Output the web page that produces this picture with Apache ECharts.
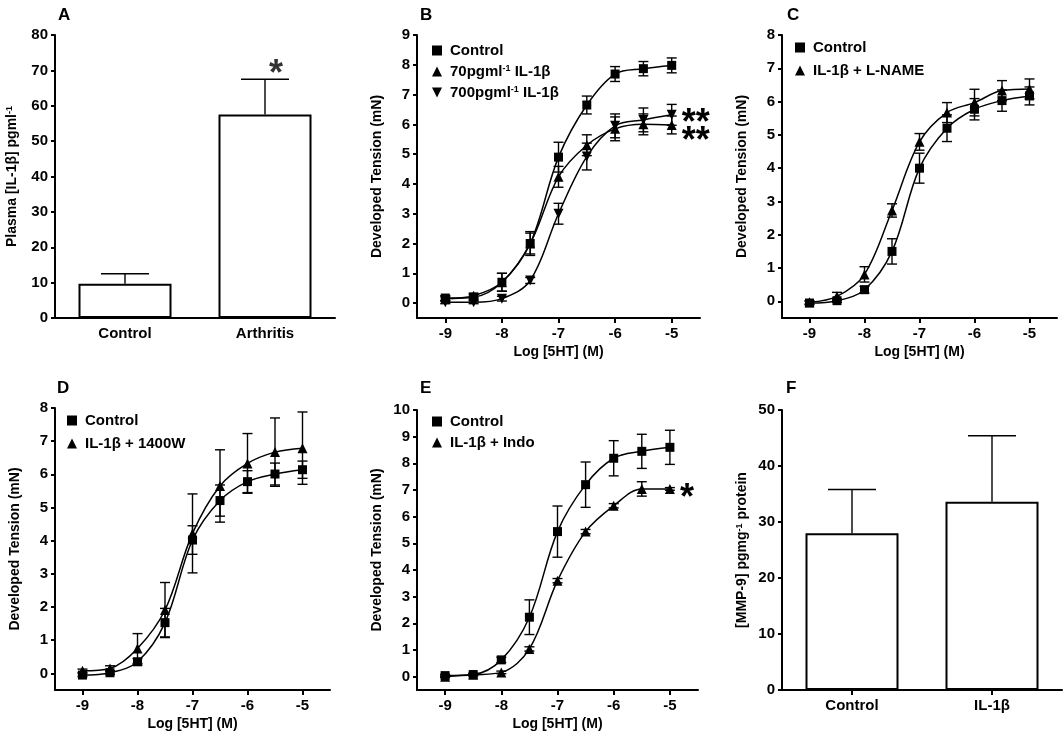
<!DOCTYPE html>
<html><head><meta charset="utf-8">
<script src="https://cdn.jsdelivr.net/npm/echarts@6/dist/echarts.min.js"></script>
<style>html,body{margin:0;padding:0;background:#fff}#c{width:1063px;height:736px}</style>
</head><body><div id="c"></div>
<script>
// ---------- data ----------
const logX = [-9, -8.5, -8, -7.5, -7, -6.5, -6, -5.5, -5];
const xTickVals = [-9, -8, -7, -6, -5];

const aCats = ['Control', 'Arthritis'];
const aMean = [9.7, 57.5];
const aSem = [2.8, 10.0];

const bControl = [0.17, 0.2, 0.7, 2.0, 4.9, 6.65, 7.69, 7.87, 7.98];
const bControlSem = [0.08, 0.08, 0.3, 0.4, 0.5, 0.3, 0.25, 0.24, 0.25];
const b70 = [0.15, 0.25, 0.7, 2.0, 4.24, 5.3, 5.85, 6.0, 5.98];
const b70Sem = [0.08, 0.08, 0.3, 0.35, 0.35, 0.35, 0.4, 0.35, 0.3];
const b700 = [0.03, 0.03, 0.15, 0.76, 3.0, 4.92, 5.95, 6.15, 6.32];
const b700Sem = [0.05, 0.05, 0.08, 0.1, 0.35, 0.45, 0.4, 0.4, 0.35];

const cControl = [-0.05, 0.02, 0.35, 1.5, 4.0, 5.2, 5.77, 6.03, 6.17];
const cControlSem = [0.05, 0.05, 0.1, 0.38, 0.45, 0.4, 0.32, 0.32, 0.27];
const cLname = [-0.03, 0.15, 0.81, 2.73, 4.79, 5.67, 5.97, 6.33, 6.38];
const cLnameSem = [0.05, 0.12, 0.23, 0.2, 0.25, 0.3, 0.4, 0.3, 0.3];

const dControl = [-0.05, 0.02, 0.35, 1.53, 4.02, 5.21, 5.78, 6.01, 6.14];
const dControlSem = [0.05, 0.05, 0.1, 0.43, 0.43, 0.47, 0.33, 0.33, 0.26];
const d1400W = [0.08, 0.15, 0.75, 1.91, 4.22, 5.65, 6.33, 6.67, 6.79];
const d1400WSem = [0.05, 0.08, 0.45, 0.83, 1.19, 1.09, 0.9, 1.03, 1.09];

const eControl = [0.04, 0.08, 0.63, 2.23, 5.44, 7.2, 8.19, 8.45, 8.6];
const eControlSem = [0.05, 0.05, 0.1, 0.65, 0.96, 0.85, 0.66, 0.64, 0.64];
const eIndo = [0.0, 0.07, 0.16, 1.04, 3.6, 5.44, 6.41, 7.04, 7.04];
const eIndoSem = [0.03, 0.03, 0.05, 0.08, 0.08, 0.08, 0.08, 0.27, 0.05];

const fCats = ['Control', 'IL-1β'];
const fMean = [28.0, 33.6];
const fSem = [7.8, 11.8];

const yTicksB = [0, 1, 2, 3, 4, 5, 6, 7, 8, 9];
const yTicksC = [0, 1, 2, 3, 4, 5, 6, 7, 8];
const yTicksD = [0, 1, 2, 3, 4, 5, 6, 7, 8];
const yTicksE = [0, 1, 2, 3, 4, 5, 6, 7, 8, 9, 10];

// ---------- styling helpers ----------
const FONT = '"Liberation Sans", Arial, sans-serif';
const BLACK = '#000';
const lineAxis = { show: true, onZero: false, lineStyle: { color: BLACK, width: 2 } };
const tickStyle = { color: BLACK, width: 2 };
const labelStyle = { color: BLACK, fontSize: 15, fontWeight: 'bold', fontFamily: FONT };
const nameStyle = {
  color: BLACK, fontSize: 14, fontWeight: 'bold', fontFamily: FONT,
  rich: { sup: { fontSize: 9, fontWeight: 'bold', fontFamily: FONT, color: BLACK, verticalAlign: 'top' } }
};
const starFont = { color: BLACK, fontSize: 36, fontWeight: 'bold', fontFamily: FONT };

function logXAxis(gi) {
  return {
    type: 'value', gridIndex: gi, min: -9.5, max: -4.5,
    axisLine: lineAxis,
    axisTick: { show: true, customValues: xTickVals, length: 5, lineStyle: tickStyle },
    axisLabel: Object.assign({ customValues: xTickVals, margin: 8, formatter: v => String(v) }, labelStyle),
    splitLine: { show: false },
    name: 'Log [5HT] (M)', nameLocation: 'middle', nameGap: 27, nameTextStyle: nameStyle
  };
}
function tensionYAxis(gi, max, ticks) {
  return {
    type: 'value', gridIndex: gi, min: -0.5, max: max,
    axisLine: lineAxis,
    axisTick: { show: true, customValues: ticks, length: 4, lineStyle: tickStyle },
    axisLabel: Object.assign({ customValues: ticks, margin: 7 }, labelStyle),
    splitLine: { show: false },
    name: 'Developed Tension (mN)', nameLocation: 'middle', nameGap: 33, nameTextStyle: nameStyle
  };
}
function catXAxis(gi, cats, showTick) {
  return {
    type: 'category', gridIndex: gi, data: cats,
    axisLine: lineAxis,
    axisTick: { show: showTick, alignWithLabel: true, length: 5, lineStyle: tickStyle },
    axisLabel: Object.assign({ margin: 8 }, labelStyle)
  };
}
function barYAxis(gi, max, interval, name, gap) {
  return {
    type: 'value', gridIndex: gi, min: 0, max: max, interval: interval,
    axisLine: lineAxis,
    axisTick: { show: true, length: 4, lineStyle: tickStyle },
    axisLabel: Object.assign({ margin: 7 }, labelStyle),
    splitLine: { show: false },
    name: name, nameLocation: 'middle', nameGap: gap, nameTextStyle: nameStyle
  };
}

function curve(name, gi, ys, symbol, size, rotate, star, starDy) {
  const data = logX.map((x, i) => [x, ys[i]]);
  if (star) {
    const last = data.length - 1;
    data[last] = {
      value: data[last],
      label: Object.assign({
        show: true, formatter: star, position: 'right', distance: 5, offset: [0, starDy]
      }, starFont)
    };
  }
  return {
    type: 'line', name: name, xAxisIndex: gi, yAxisIndex: gi, data: data,
    smooth: 0.35, symbol: symbol, symbolSize: size, symbolRotate: rotate || 0, showAllSymbol: true,
    color: BLACK, itemStyle: { color: BLACK }, lineStyle: { color: BLACK, width: 1.5 }, z: 4
  };
}

function errRender(capW, lowerCap) {
  return function (params, api) {
    const x = api.value(0), lo = api.value(1), hi = api.value(2);
    const pLo = api.coord([x, lo]);
    const pHi = api.coord([x, hi]);
    const st = { stroke: BLACK, lineWidth: 1.4 };
    const ch = [
      { type: 'line', shape: { x1: pLo[0], y1: pLo[1], x2: pHi[0], y2: pHi[1] }, style: st },
      { type: 'line', shape: { x1: pHi[0] - capW / 2, y1: pHi[1], x2: pHi[0] + capW / 2, y2: pHi[1] }, style: st }
    ];
    if (lowerCap) ch.push({ type: 'line', shape: { x1: pLo[0] - capW / 2, y1: pLo[1], x2: pLo[0] + capW / 2, y2: pLo[1] }, style: st });
    return { type: 'group', children: ch };
  };
}
function errBars(gi, ys, es) {
  return {
    type: 'custom', xAxisIndex: gi, yAxisIndex: gi, clip: false, z: 3,
    data: logX.map((x, i) => [x, ys[i] - es[i], ys[i] + es[i]]),
    encode: { x: 0, y: [1, 2] },
    renderItem: errRender(10, true), silent: true
  };
}
function barErr(gi, means, sems) {
  return {
    type: 'custom', xAxisIndex: gi, yAxisIndex: gi, clip: false, z: 5,
    data: means.map((m, i) => [i, m, m + sems[i]]),
    encode: { x: 0, y: [1, 2] },
    renderItem: errRender(48, false), silent: true
  };
}
function bars(gi, means) {
  return {
    type: 'bar', xAxisIndex: gi, yAxisIndex: gi, data: means, barWidth: 93,
    itemStyle: { color: '#fff', borderColor: BLACK, borderWidth: 2 }, z: 2
  };
}

const legendBase = {
  orient: 'vertical', itemWidth: 10, itemHeight: 10, selectedMode: false,
  textStyle: {
    color: BLACK, fontSize: 15, fontWeight: 'bold', fontFamily: FONT, padding: [0, 0, 0, 3],
    rich: { sup: { fontSize: 9, fontWeight: 'bold', fontFamily: FONT, color: BLACK, verticalAlign: 'top' } }
  },
  formatter: n => n.replace('⁻¹', '{sup|-1}'),
  padding: 0
};
const DOWN = 'path://M0,0L10,0L5,10Z';
function legend(left, top, gap, items) {
  return Object.assign({}, legendBase, { left: left, top: top, itemGap: gap, data: items });
}
function panelTitle(t, left, top) {
  return { text: t, left: left, top: top, padding: 0, textStyle: { fontSize: 17, fontWeight: 'bold', fontFamily: FONT, color: BLACK } };
}

const N70 = '70pgml⁻¹ IL-1β';
const N700 = '700pgml⁻¹ IL-1β';

const option = {
  animation: false,
  backgroundColor: '#fff',
  title: [
    panelTitle('A', 58, 7), panelTitle('B', 420, 7), panelTitle('C', 787, 7),
    panelTitle('D', 57, 380), panelTitle('E', 420, 380), panelTitle('F', 786, 380)
  ],
  grid: [
    { left: 55, top: 35, width: 280, height: 283 },
    { left: 417, top: 35, width: 283, height: 283 },
    { left: 782, top: 35, width: 275, height: 283 },
    { left: 55, top: 408, width: 275, height: 282 },
    { left: 417, top: 410, width: 281, height: 280 },
    { left: 782, top: 410, width: 280, height: 280 }
  ],
  xAxis: [
    catXAxis(0, aCats, false),
    logXAxis(1), logXAxis(2), logXAxis(3), logXAxis(4),
    catXAxis(5, fCats, true)
  ],
  yAxis: [
    barYAxis(0, 80, 10, 'Plasma [IL-1β] pgml{sup|-1}', 36),
    tensionYAxis(1, 9, yTicksB),
    tensionYAxis(2, 8, yTicksC),
    tensionYAxis(3, 8, yTicksD),
    tensionYAxis(4, 10, yTicksE),
    barYAxis(5, 50, 10, '[MMP-9] pgmg{sup|-1} protein', 33)
  ],
  legend: [
    legend(432, 43, 6, [{ name: 'Control', icon: 'rect' }, { name: N70, icon: 'triangle' }, { name: N700, icon: DOWN }]),
    legend(795, 40, 8, [{ name: 'Control', icon: 'rect' }, { name: 'IL-1β + L-NAME', icon: 'triangle' }]),
    legend(67, 413, 8, [{ name: 'Control', icon: 'rect' }, { name: 'IL-1β + 1400W', icon: 'triangle' }]),
    legend(432, 414, 6, [{ name: 'Control', icon: 'rect' }, { name: 'IL-1β + Indo', icon: 'triangle' }])
  ],
  series: [
    bars(0, aMean), barErr(0, aMean, aSem),
    {
      type: 'scatter', xAxisIndex: 0, yAxisIndex: 0, symbolSize: 0, silent: true,
      data: [[1, aMean[1] + aSem[1]]],
      label: Object.assign({ show: true, formatter: '*', position: 'top', distance: 0, offset: [11, 14] }, starFont)
    },

    errBars(1, bControl, bControlSem), errBars(1, b70, b70Sem), errBars(1, b700, b700Sem),
    curve(N700, 1, b700, 'triangle', 10, 180, '**', 9),
    curve(N70, 1, b70, 'triangle', 10, 0, '**', 17),
    curve('Control', 1, bControl, 'rect', 9, 0, null),

    errBars(2, cControl, cControlSem), errBars(2, cLname, cLnameSem),
    curve('IL-1β + L-NAME', 2, cLname, 'triangle', 10, 0, null),
    curve('Control', 2, cControl, 'rect', 9, 0, null),

    errBars(3, dControl, dControlSem), errBars(3, d1400W, d1400WSem),
    curve('IL-1β + 1400W', 3, d1400W, 'triangle', 10, 0, null),
    curve('Control', 3, dControl, 'rect', 9, 0, null),

    errBars(4, eControl, eControlSem), errBars(4, eIndo, eIndoSem),
    curve('IL-1β + Indo', 4, eIndo, 'triangle', 10, 0, '*', 10),
    curve('Control', 4, eControl, 'rect', 9, 0, null),

    bars(5, fMean), barErr(5, fMean, fSem)
  ]
};

const chart = echarts.init(document.getElementById('c'), null, { renderer: 'canvas' });
chart.setOption(option);
</script>
</body></html>
